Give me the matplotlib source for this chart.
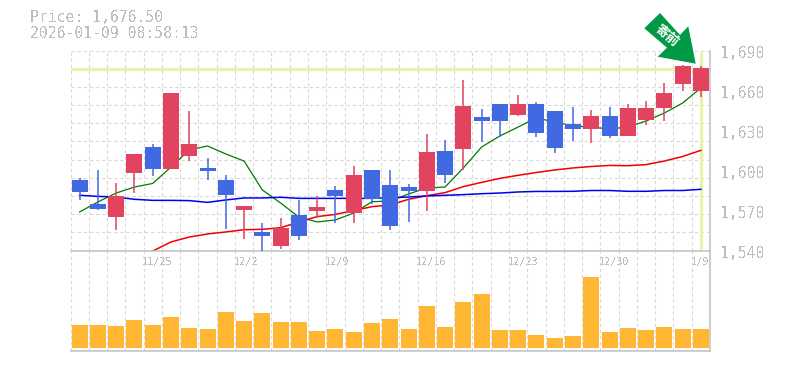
import numpy as np
import matplotlib
matplotlib.use("Agg")
import matplotlib.pyplot as plt
from matplotlib.patches import Polygon

# Palette
UP = "#E2435F"
DOWN = "#4169E1"
VOL = "#FFB733"
GRID = "#D8D8D8"
AXIS = "#C0C0C0"
TEXT = "#BEBEBE"
PALE = "#E4F5A8"
ARROW = "#009944"

W, H = 785, 370

# Data
opens = [1592.9, 1574.9, 1565.1, 1598.1, 1617.6, 1601.1, 1610.9, 1601.9, 1592.9, 1570.4,
         1553.9, 1543.4, 1566.6, 1569.6, 1585.4, 1568.1, 1600.4, 1589.1, 1587.6, 1584.6,
         1614.6, 1616.1, 1640.1, 1649.9, 1641.6, 1649.9, 1644.6, 1634.9, 1631.1, 1640.9,
         1625.9, 1637.9, 1646.9, 1664.9, 1659.6]
closes = [1583.9, 1571.1, 1580.9, 1612.4, 1601.1, 1658.1, 1619.9, 1599.6, 1581.6, 1573.4,
          1550.9, 1556.9, 1550.9, 1572.6, 1580.9, 1596.6, 1578.6, 1558.4, 1584.6, 1613.9,
          1596.6, 1648.4, 1637.1, 1637.1, 1649.9, 1628.1, 1616.9, 1631.1, 1640.9, 1625.9,
          1646.9, 1646.9, 1658.1, 1678.4, 1676.5]
highs = [1594.6, 1600.4, 1590.6, 1612.4, 1619.9, 1658.1, 1644.6, 1609.4, 1596.6, 1573.4,
         1560.6, 1564.4, 1577.9, 1580.9, 1588.4, 1603.4, 1600.4, 1600.4, 1589.9, 1627.4,
         1622.9, 1667.9, 1646.1, 1649.9, 1656.6, 1651.4, 1644.6, 1647.6, 1645.4, 1647.6,
         1649.9, 1652.1, 1665.6, 1679.1, 1678.4]
lows = [1577.9, 1570.4, 1555.4, 1583.4, 1595.9, 1601.1, 1607.1, 1592.9, 1556.1, 1548.6,
        1539.6, 1541.1, 1547.9, 1564.4, 1560.6, 1560.6, 1574.9, 1555.4, 1561.4, 1569.6,
        1590.6, 1600.4, 1621.4, 1625.1, 1640.9, 1625.1, 1613.1, 1622.1, 1620.6, 1624.4,
        1625.9, 1634.1, 1637.1, 1659.6, 1655.1]
ma_short = [1568.9, 1576.4, 1583.1, 1587.6, 1590.3, 1602.6, 1615.4, 1618.4, 1612.4, 1607.1,
            1585.4, 1575.6, 1565.1, 1561.4, 1562.9, 1568.1, 1576.6, 1577.1, 1582.4, 1586.9,
            1587.6, 1601.9, 1617.6, 1625.9, 1632.6, 1639.4, 1636.4, 1633.4, 1632.6, 1631.1,
            1632.6, 1637.1, 1643.1, 1650.6, 1661.9]
ma_mid = [1581.4, 1580.6, 1580.1, 1578.4, 1577.6, 1577.6, 1577.4, 1576.1, 1577.9, 1579.4,
          1579.4, 1579.9, 1579.1, 1579.1, 1579.1, 1579.1, 1579.1, 1579.6, 1580.1, 1580.9,
          1581.4, 1581.9, 1582.6, 1583.1, 1583.9, 1584.3, 1584.3, 1584.4, 1585.0, 1585.0,
          1584.4, 1584.4, 1585.0, 1585.0, 1585.9]
ma_long = [np.nan, np.nan, np.nan, np.nan, 1539.6, 1546.4, 1550.1, 1552.4, 1553.9, 1555.6,
           1555.9, 1557.1, 1561.4, 1565.4, 1567.1, 1569.9, 1572.9, 1574.1, 1578.4, 1581.1,
           1583.4, 1587.9, 1591.1, 1594.1, 1596.4, 1598.5, 1600.4, 1601.9, 1603.0, 1603.8,
           1603.6, 1604.4, 1607.1, 1610.5, 1615.1]
volumes = [23, 23, 22, 28, 23, 31, 20, 19, 36, 27, 35, 26, 26, 17, 19, 16, 25, 29, 19, 42,
           21, 46, 54, 18, 18, 13, 10, 12, 71, 16, 20, 18, 21, 19, 19]
date_idx = [4, 9, 14, 19, 24, 29, 34]
date_labels = ["11/25", "12/2", "12/9", "12/16", "12/23", "12/30", "1/9"]
price_ticks = [1690, 1660, 1630, 1600, 1570, 1540]
price_labels = ["1,690", "1,660", "1,630", "1,600", "1,570", "1,540"]
last_price = 1676.5

plt.rcParams["font.family"] = ["DejaVu Sans Mono"]
plt.rcParams["text.antialiased"] = False

fig = plt.figure(figsize=(W / 100, H / 100), dpi=100, facecolor="white")


def px_axes(left, top, right, bottom):
    return fig.add_axes([left / W, 1 - bottom / H, (right - left) / W, (bottom - top) / H])


def px(x, y):
    return x / W, 1 - y / H


L, R = 70.5, 710.0
ax = px_axes(L, 50.5, R, 250.5)
ax_v = px_axes(L, 250.5, R, 350.5)
n = len(closes)
xs = np.arange(n)

for a in (ax, ax_v):
    a.set_xlim(-0.5, n - 0.5)
    a.set_xticks(np.arange(n) - 0.5)
    a.tick_params(length=0, labelbottom=False, labelleft=False)
    a.grid(axis="x", color=GRID, lw=0.8, ls=(0, (3, 2.5)), zorder=0)
    a.set_axisbelow(True)
    a.patch.set_alpha(0)
    for name, sp in a.spines.items():
        sp.set_visible(name in ("right", "bottom"))
        sp.set_color(AXIS)
        sp.set_linewidth(1.1)

# Price panel
ax.set_ylim(1540, 1690)
ax.set_yticks(np.linspace(1540, 1690, 12))
ax.grid(axis="y", color=GRID, lw=0.8, ls=(0, (3, 2.5)), zorder=0)

ax.plot([-0.5, n - 1], [last_price, last_price], color=PALE, lw=2.3, zorder=1,
        solid_capstyle="butt")
ax.plot([n - 1, n - 1], [1540.8, 1689], color=PALE, lw=2.3, zorder=1, solid_capstyle="butt")

ax.plot(xs, ma_short, color="#007A00", lw=0.9, zorder=2)
ax.plot(xs, ma_long, color="#F00000", lw=1.1, zorder=2)
ax.plot(xs, ma_mid, color="#0000EE", lw=1.1, zorder=2)

for i in range(n):
    col = UP if closes[i] >= opens[i] else DOWN
    ax.vlines(i, lows[i], highs[i], color=col, lw=1.1, zorder=3)
    ax.bar(i, abs(closes[i] - opens[i]), bottom=min(opens[i], closes[i]), width=0.875,
           color=col, linewidth=0, zorder=4)

for v, lab in zip(price_ticks, price_labels):
    ax.annotate(lab, (1, (v - 1540) / 150), xycoords="axes fraction", xytext=(7.5, -2),
                textcoords="offset points", ha="left", va="center", color=TEXT, fontsize=10.6,
                annotation_clip=False)

for i, lab in zip(date_idx, date_labels):
    ax.annotate(lab, (i, 1540), xycoords="data", xytext=(-7.6, -8.2), textcoords="offset points",
                ha="left", va="center", color=TEXT, fontsize=7.3, annotation_clip=False)

# Volume panel
ax_v.set_ylim(-2.5, 97.5)
ax_v.set_yticks([])
ax_v.bar(xs, volumes, width=0.875, color=VOL, linewidth=0, zorder=3)

# Header text
fig.text(*px(30, 18), "Price: 1,676.50", color=TEXT, fontsize=10.6, va="center", ha="left")
fig.text(*px(30, 33), "2026-01-09 08:58:13", color=TEXT, fontsize=10.6, va="center", ha="left")

# Arrow badge pointing at the last candle
arrow_px = [(660, 13), (644.3, 28.3), (667, 47.7), (657.7, 56.7), (695.7, 63.7), (688.3, 26.3), (680, 35)]
fig.add_artist(Polygon([px(x, y) for x, y in arrow_px], closed=True, facecolor=ARROW,
                       edgecolor="none", transform=fig.transFigure, zorder=10))
fig.text(*px(666.5, 35.5), "寄前", color="white", fontsize=9.5, fontweight="bold",
         family=["Noto Sans CJK JP", "DejaVu Sans"], rotation=-40, rotation_mode="anchor",
         ha="center", va="center", zorder=11, antialiased=True)

fig.savefig("out.png", dpi=100, facecolor="white")
